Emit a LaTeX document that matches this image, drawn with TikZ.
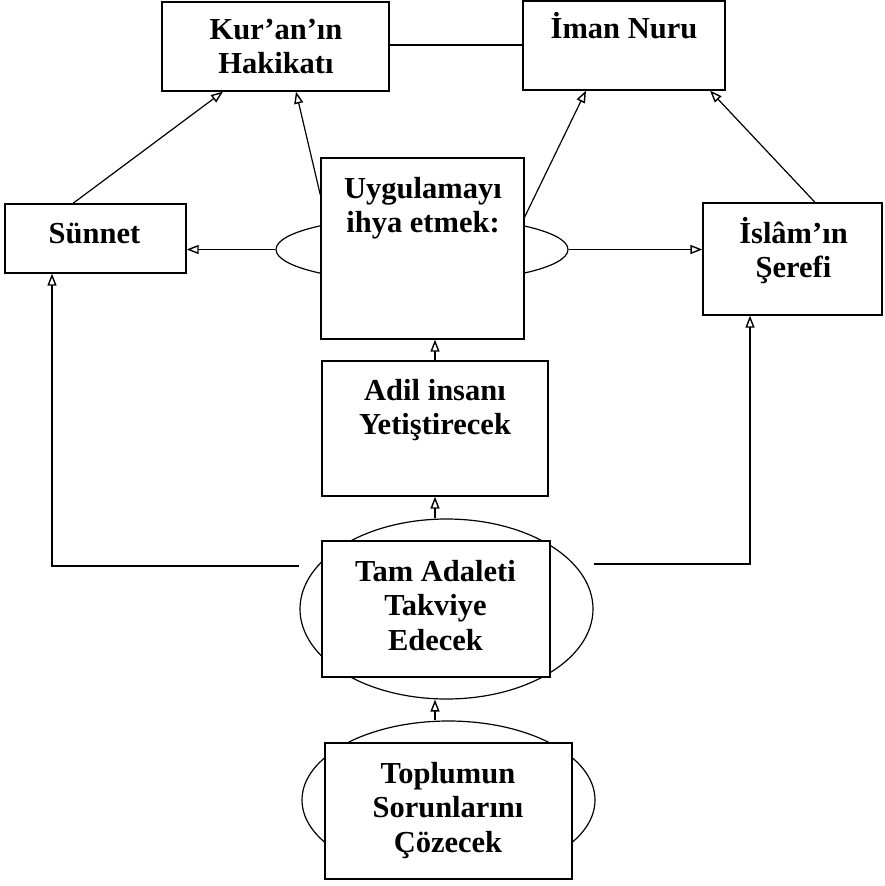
\documentclass[tikz,border=0pt]{standalone}
\usepackage{fontspec}
\setmainfont{Liberation Serif}
\usetikzlibrary{arrows.meta,shapes.geometric}
\begin{document}
\begin{tikzpicture}[x=1pt,y=-1pt,
  box/.style={draw,line width=1.3pt,fill=white,rectangle,inner sep=0pt},
  oval/.style={draw,line width=1.2pt,ellipse,inner sep=0pt},
  lbl/.style={anchor=base,inner sep=0pt,font=\fontsize{30.5}{34.5}\selectfont\bfseries},
  arr/.style={line width=1.2pt,-{Triangle[open,length=12pt,width=9pt,line width=1.4pt]}},
  ln/.style={line width=1.2pt}]
\useasboundingbox[fill=white] (0,0) rectangle (884,886);
% ovals behind boxes
\node[oval,minimum width=292pt,minimum height=66pt] (uygell) at (422,249.5) {};
\node[oval,minimum width=293pt,minimum height=180pt] (tamell) at (446.5,609) {};
\node[oval,minimum width=293pt,minimum height=158pt] (topell) at (448.5,800) {};
% boxes
\node[box,minimum width=227pt,minimum height=89pt] (kur) at (275.5,46.5) {};
\node[box,minimum width=202pt,minimum height=89pt] (iman) at (624,45.5) {};
\node[box,minimum width=181pt,minimum height=69pt] (sun) at (95.5,238.5) {};
\node[box,minimum width=203pt,minimum height=181pt] (uyg) at (422.5,248.5) {};
\node[box,minimum width=179pt,minimum height=112pt] (isl) at (792.5,259) {};
\node[box,minimum width=226pt,minimum height=135pt] (adil) at (435,428.5) {};
\node[box,minimum width=228pt,minimum height=136pt] (tam) at (436,609) {};
\node[box,minimum width=247pt,minimum height=136pt] (top) at (448.5,811) {};
% texts
\node[lbl] (kurt) at (276,39) {\begin{tabular}[t]{@{}c@{}}Kur’an’ın\\Hakikatı\end{tabular}};
\node[lbl] (imant) at (624,38) {İman Nuru};
\node[lbl] (sunt) at (94.5,243) {Sünnet};
\node[lbl] (uygt) at (423,198) {\begin{tabular}[t]{@{}c@{}}Uygulamayı\\ihya etmek:\end{tabular}};
\node[lbl] (islt) at (793.5,243) {\begin{tabular}[t]{@{}c@{}}İslâm’ın\\Şerefi\end{tabular}};
\node[lbl] (adilt) at (435,400) {\begin{tabular}[t]{@{}c@{}}Adil insanı\\Yetiştirecek\end{tabular}};
\node[lbl] (tamt) at (435.5,581) {\begin{tabular}[t]{@{}c@{}}Tam Adaleti\\Takviye\\Edecek\end{tabular}};
\node[lbl] (topt) at (448,783) {\begin{tabular}[t]{@{}c@{}}Toplumun\\Sorunlarını\\Çözecek\end{tabular}};
% connectors
\draw[ln] (kur.east |- 0,45) -- (iman.west |- 0,45);
\draw[arr] (sun.north -| 73,0) -- (kur.south -| 223,0);
\draw[arr] (uyg.west |- 0,195) -- (kur.south -| 296,0);
\draw[arr] (uyg.east |- 0,217) -- (iman.south -| 586,0);
\draw[arr] (isl.north -| 815,0) -- (iman.south -| 710,0);
\draw[arr] (uygell.west) -- (sun.east |- uygell.west);
\draw[arr] (uygell.east) -- (isl.west |- uygell.east);
\draw[arr] (adil.north) -- (uyg.south -| adil.north);
\draw[arr] (tamell.north -| adil.south) -- (adil.south);
\draw[arr] (topell.north -| adil.south) -- (tamell.south -| adil.south);
\draw[arr] (tamell.west |- 0,566) -- (52,566) -- (sun.south -| 52,0);
\draw[arr] (tamell.east |- 0,564) -- (750,564) -- (isl.south -| 750,0);
\end{tikzpicture}
\end{document}
